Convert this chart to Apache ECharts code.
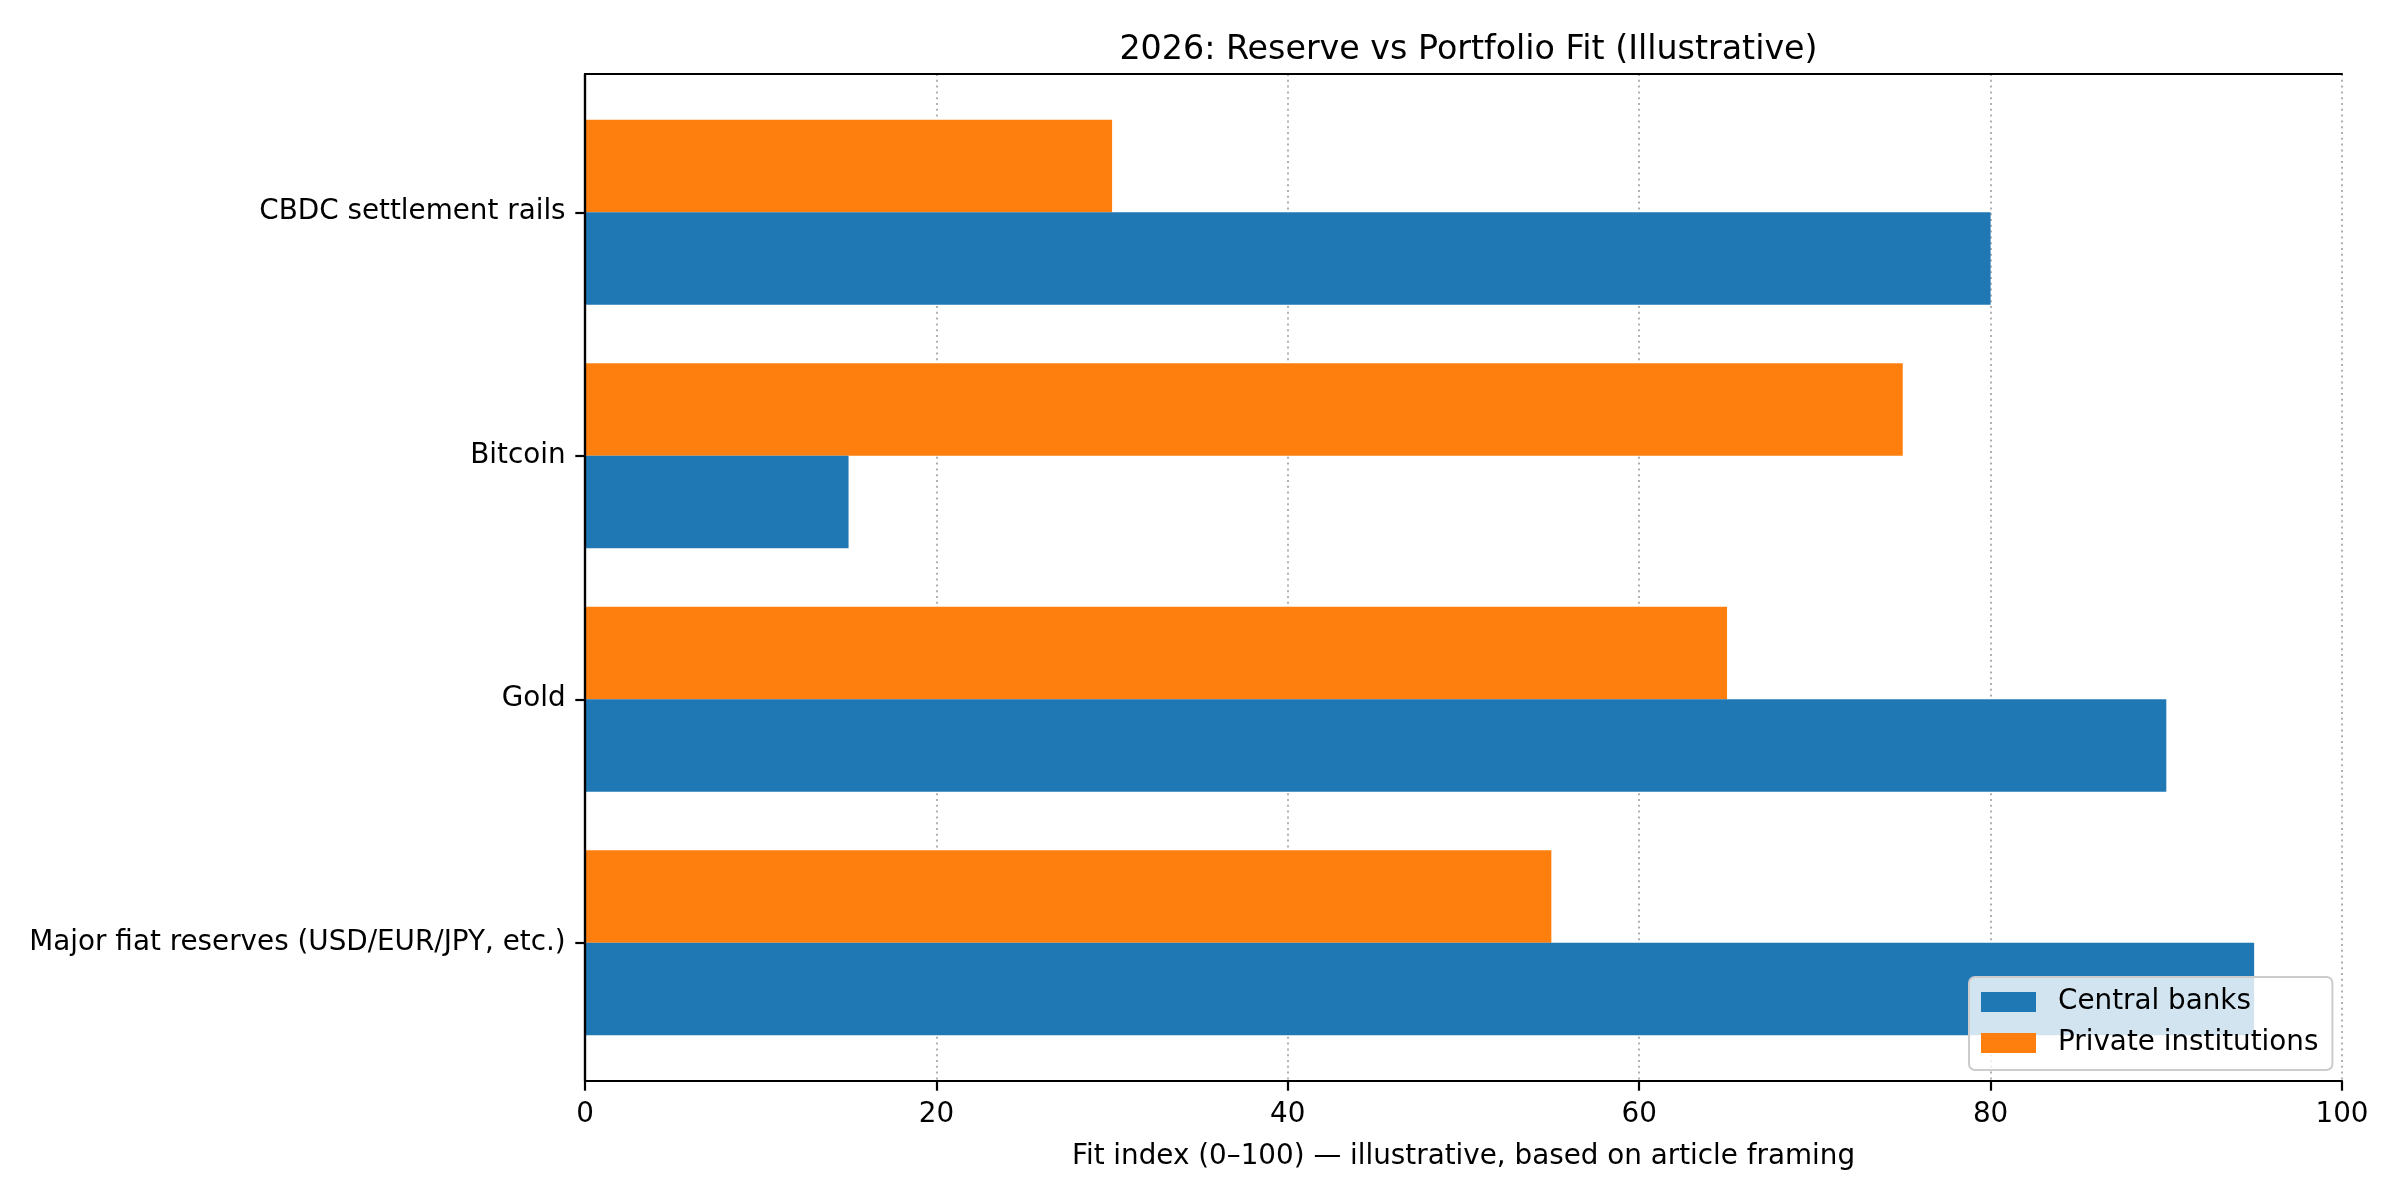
<!DOCTYPE html>
<html><head><meta charset="utf-8">
<script src="https://cdn.jsdelivr.net/npm/echarts@6/dist/echarts.min.js"></script>
<style>html,body{margin:0;padding:0;background:#fff}#c{width:2400px;height:1200px}</style>
</head><body><div id="c"></div>
<script>
const categories = ['Major fiat reserves (USD/EUR/JPY, etc.)', 'Gold', 'Bitcoin', 'CBDC settlement rails'];
const centralBanks = [95, 90, 15, 80];
const privateInst = [55, 65, 75, 30];
const seriesNames = ['Central banks', 'Private institutions'];
const xTicks = [0, 20, 40, 60, 80, 100];

const F = 'DejaVu Sans';
const FS = 27.8;
const LW = 2.2;
const frameTop = 74, frameBottom = 1200 - 1081, L = 585, R = 2400 - 2342;
const inset = 16.5;

const chart = echarts.init(document.getElementById('c'), null, {renderer: 'canvas'});
chart.setOption({
  animation: false,
  backgroundColor: '#fff',
  title: {
    text: '2026: Reserve vs Portfolio Fit (Illustrative)',
    left: (L + 2342) / 2, textAlign: 'center', top: 29,
    textStyle: {fontFamily: F, fontSize: 33.3, fontWeight: 'normal', color: '#000'}
  },
  legend: {
    data: seriesNames,
    orient: 'vertical',
    left: 1969, top: 977,
    padding: [11, 14, 13, 12],
    itemWidth: 55, itemHeight: 20, itemGap: 13,
    icon: 'rect',
    backgroundColor: 'rgba(255,255,255,0.8)',
    borderColor: '#cccccc', borderWidth: 2, borderRadius: 6,
    textStyle: {fontFamily: F, fontSize: FS, color: '#000', padding: [0, 0, 0, 17]},
    z: 20
  },
  grid: [
    {left: L, right: R, top: frameTop, bottom: frameBottom},
    {left: L, right: R, top: frameTop + inset, bottom: frameBottom + inset}
  ],
  xAxis: [
    {gridIndex: 0, type: 'value', min: xTicks[0], max: xTicks[xTicks.length - 1], interval: 20, position: 'bottom', z: 0,
     axisLine: {show: false},
     axisTick: {show: true, length: 9.7, lineStyle: {color: '#000', width: LW}},
     axisLabel: {show: true, margin: 19.4, fontFamily: F, fontSize: FS, color: '#000'},
     splitLine: {show: true, lineStyle: {color: '#b0b0b0', type: [2, 3.8], width: 2}},
     name: 'Fit index (0–100) — illustrative, based on article framing',
     nameLocation: 'middle', nameGap: 62,
     nameTextStyle: {fontFamily: F, fontSize: FS, color: '#000'}},
    {gridIndex: 0, type: 'value', min: 0, max: 100, position: 'bottom', z: 10,
     axisLine: {show: true, lineStyle: {color: '#000', width: LW}},
     axisTick: {show: false}, axisLabel: {show: false}, splitLine: {show: false}},
    {gridIndex: 0, type: 'value', min: 0, max: 100, position: 'top', z: 10,
     axisLine: {show: true, lineStyle: {color: '#000', width: LW}},
     axisTick: {show: false}, axisLabel: {show: false}, splitLine: {show: false}},
    {gridIndex: 1, type: 'value', min: 0, max: 100, show: false}
  ],
  yAxis: [
    {gridIndex: 0, type: 'value', min: 0, max: 1, position: 'left', z: 10,
     axisLine: {show: true, lineStyle: {color: '#000', width: LW}},
     axisTick: {show: false}, axisLabel: {show: false}, splitLine: {show: false}},
    {gridIndex: 0, type: 'value', min: 0, max: 1, position: 'right', z: 10,
     axisLine: {show: true, lineStyle: {color: '#000', width: LW}},
     axisTick: {show: false}, axisLabel: {show: false}, splitLine: {show: false}},
    {gridIndex: 1, type: 'category', data: categories, position: 'left',
     axisLine: {show: false},
     axisTick: {show: true, alignWithLabel: true, length: 9.7, lineStyle: {color: '#000', width: LW}},
     axisLabel: {margin: 19.4, fontFamily: F, fontSize: FS, color: '#000', padding: [5, 0, 0, 0]},
     splitLine: {show: false}}
  ],
  series: [
    {name: seriesNames[1], type: 'bar', xAxisIndex: 3, yAxisIndex: 2, data: privateInst,
     barWidth: '38%', barGap: '0%', itemStyle: {color: '#ff7f0e'}},
    {name: seriesNames[0], type: 'bar', xAxisIndex: 3, yAxisIndex: 2, data: centralBanks,
     barWidth: '38%', barGap: '0%', itemStyle: {color: '#1f77b4'}}
  ]
});
</script></body></html>
